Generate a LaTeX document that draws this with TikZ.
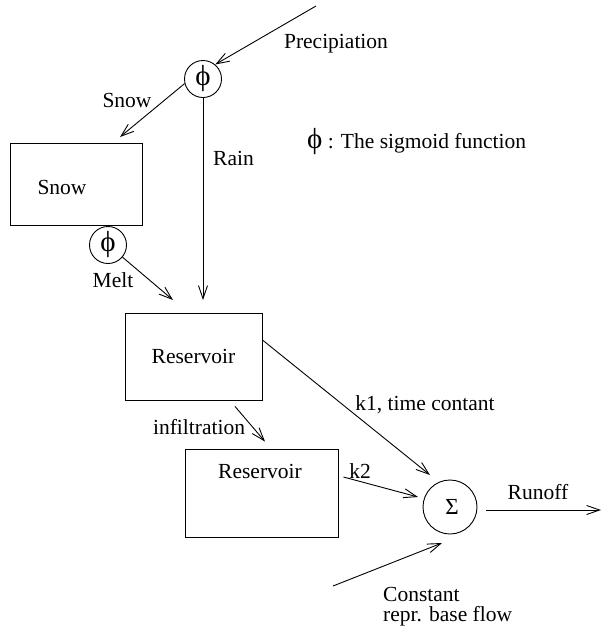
\documentclass[tikz,border=0pt]{standalone}
\usepackage{fontspec}
\setmainfont{Liberation Serif}
\usetikzlibrary{arrows.meta}
\newcommand{\phisym}{{\fontsize{29}{29}\selectfont ϕ}}
\tikzset{
  lbl/.style={font=\fontsize{21.5}{20}\selectfont, inner sep=0pt},
  circ/.style={draw, circle, line width=0.9pt, inner sep=0pt, font=\fontsize{21.5}{20}\selectfont},
  boxnode/.style={draw, rectangle, line width=0.9pt, inner sep=0pt, font=\fontsize{21.5}{20}\selectfont},
  flow/.style={line width=0.9pt, -{Straight Barb[length=13pt,width=9pt,line width=0.9pt]}}
}
\begin{document}
\begin{tikzpicture}[x=1pt,y=-1pt]
\useasboundingbox (0,0) rectangle (601,630);
% nodes
\node[circ, minimum size=37pt] (phi1) at (203,79) {\phisym};
\node[boxnode, minimum width=132pt, minimum height=82pt] (snowbox) at (76,184) {};
\node[lbl] (snowtext) at (62,187) {Snow};
\node[circ, minimum size=37pt] (phi2) at (108,245) {\phisym};
\node[boxnode, minimum width=137pt, minimum height=87pt] (res1) at (193.5,356.5) {Reservoir};
\node[boxnode, minimum width=153pt, minimum height=88pt] (res2) at (261.5,493) {};
\node[lbl] (res2text) at (260,471) {Reservoir};
\node[circ, minimum size=54pt] (sigma) at (450,507) {\hspace{4pt}\fontsize{23}{23}\selectfont Σ};
% labels
\node[lbl] (lprec) at (336,44) {Precipiation};
\node[lbl] (lsnow) at (127,100) {Snow};
\node[lbl, anchor=west] (lrain) at (213,158) {Rain};
\node[lbl, anchor=west] (legend) at (307,142) {\phisym{} : The sigmoid function};
\node[lbl] (lmelt) at (113,280) {Melt};
\node[lbl] (linf) at (199,427) {infiltration};
\node[lbl] (lk1) at (425,405) {k1, time contant};
\node[lbl] (lk2) at (360,471) {k2};
\node[lbl] (lrun) at (538,492) {Runoff};
\node[lbl, anchor=west, align=left] (lconst) at (383,607) {Constant\\repr. base flow};
% coordinates
\coordinate (p0) at (316,6);
\coordinate (snowtip) at (120,137);
\coordinate (raintip) at (203,300);
\coordinate (melttip) at (173,300);
\coordinate (k1start) at ([shift={(0,-16.5)}]res1.east);
\coordinate (inf0) at ([shift={(41.5,6)}]res1.south);
\coordinate (inftip) at ([shift={(3.5,-7)}]res2.north);
\coordinate (k2start) at ([shift={(5,-16)}]res2.east);
\coordinate (k1tip) at ([shift={(-20,-32)}]sigma.center);
\coordinate (k2tip) at ([shift={(-32,-10)}]sigma.center);
\coordinate (ctip) at ([shift={(-8,36)}]sigma.center);
\coordinate (c0) at (333,586);
\coordinate (run0) at ([shift={(36,3)}]sigma.center);
\coordinate (run1) at (601,510);
% connectors
\draw[flow] (p0) -- (phi1.50);
\draw[flow] (phi1.194) -- (snowtip);
\draw[flow] (phi1.south) -- (raintip);
\draw[flow] (phi2.-40) -- (melttip);
\draw[flow] (k1start) -- (k1tip);
\draw[flow] (inf0) -- (inftip);
\draw[flow] (k2start) -- (k2tip);
\draw[flow] (c0) -- (ctip);
\draw[flow] (run0) -- (run1);
\end{tikzpicture}
\end{document}
